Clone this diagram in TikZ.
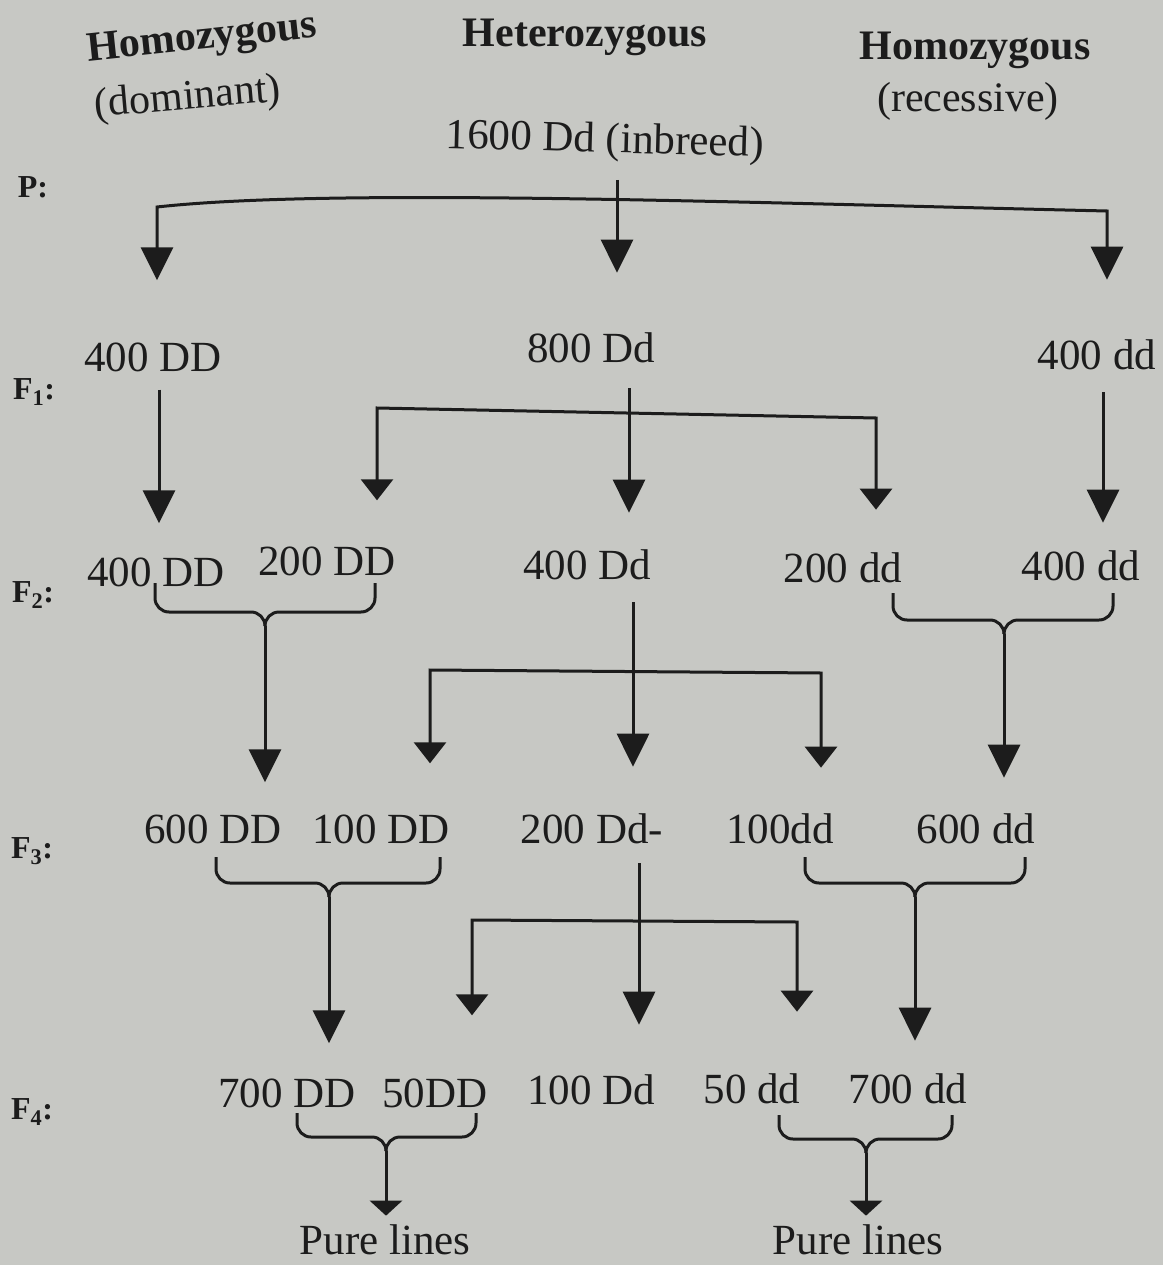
\documentclass[tikz,border=0pt]{standalone}
\usepackage{fontspec}
\setmainfont{Liberation Serif}
\usetikzlibrary{arrows.meta,calc}
\definecolor{pageGray}{RGB}{199,200,196}
\definecolor{inkBlack}{RGB}{28,28,28}
\tikzset{
  % text of the pedigree
  gen/.style={inner sep=0pt, text=inkBlack, font=\fontsize{43}{50}\selectfont},
  headtxt/.style={inner sep=0pt, text=inkBlack, font=\fontsize{42}{50}\selectfont\bfseries},
  subhead/.style={inner sep=0pt, text=inkBlack, font=\fontsize{42}{50}\selectfont},
  genlabel/.style={inner sep=0pt, text=inkBlack, font=\fontsize{32}{38}\selectfont\bfseries},
  % lines and arrows
  wire/.style={draw=inkBlack, line width=3pt},
  bigarrow/.style={wire, -{Triangle[length=33pt,width=32pt]}},
  tinyarrow/.style={wire, -{Triangle[length=15pt,width=32pt]}},
  branchpair/.style={wire, {Triangle[length=21pt,width=32pt]}-{Triangle[length=21pt,width=32pt]}},
  bigpair/.style={wire, {Triangle[length=33pt,width=32pt]}-{Triangle[length=33pt,width=32pt]}},
  brc/.style={wire, rounded corners=14pt}
}
\begin{document}
\begin{tikzpicture}[x=1pt,y=-1pt]
\fill[pageGray] (0,0) rectangle (1163,1265);
\useasboundingbox (0,0) rectangle (1163,1265);

% column headings
\node[headtxt, rotate=6] (homD) at (202,40) {Homozygous};
\node[subhead, rotate=5] (domi) at (188,99) {(dominant)};
\node[headtxt] (hetero) at (585,37) {Heterozygous};
\node[headtxt] (homR) at (975,50) {Homozygous};
\node[subhead] (reces) at (968,101) {(recessive)};

% generation labels
\node[genlabel] (lblP) at (33,187) {P:};
\node[genlabel] (lblF1) at (34,392) {F\textsubscript{1}:};
\node[genlabel] (lblF2) at (33,595) {F\textsubscript{2}:};
\node[genlabel] (lblF3) at (32,851) {F\textsubscript{3}:};
\node[genlabel] (lblF4) at (32,1112) {F\textsubscript{4}:};

% parents
\node[gen, rotate=-1.5] (parent) at (605,142) {1600 Dd (inbreed)};

% F1
\node[gen] (f1a) at (153,357) {400 DD};
\node[gen] (f1b) at (591,348) {800 Dd};
\node[gen] (f1c) at (1097,355) {400 dd};

% F2
\node[gen] (f2a) at (156,572) {400 DD};
\node[gen] (f2b) at (327,561) {200 DD};
\node[gen] (f2c) at (587,565) {400 Dd};
\node[gen] (f2d) at (843,568) {200 dd};
\node[gen] (f2e) at (1081,566) {400 dd};

% F3
\node[gen] (f3a) at (213,829) {600 DD};
\node[gen] (f3b) at (381,829) {100 DD};
\node[gen] (f3c) at (592,829) {200 Dd-};
\node[gen] (f3d) at (780,829) {100dd};
\node[gen] (f3e) at (976,829) {600 dd};

% F4
\node[gen] (f4a) at (287,1093) {700 DD};
\node[gen] (f4b) at (435,1093) {50DD};
\node[gen] (f4c) at (591,1090) {100 Dd};
\node[gen] (f4d) at (752,1089) {50 dd};
\node[gen] (f4e) at (908,1089) {700 dd};

% pure lines
\node[gen] (pure1) at (385,1240) {Pure lines};
\node[gen] (pure2) at (858,1240) {Pure lines};

% P -> F1
\coordinate (pL) at (157,207);
\coordinate (pR) at (1107,211);
\coordinate (pM) at (617,180);
\draw[bigpair, shorten <=62pt, shorten >=60pt]
  (pL |- f1a.north) -- (pL) .. controls (330,188) and (720,202) .. (pR) -- (pR |- f1c.north);
\draw[bigarrow, shorten >=60pt] (pM) -- (pM |- f1b.north);

% F1 -> F2
\coordinate (m1) at (629,410);
\coordinate (m1L) at (377,408);
\coordinate (m1R) at (876,418);
\draw[bigarrow, shorten <=18pt, shorten >=34pt] ([xshift=6pt]f1a.south) -- ([xshift=6pt]f1a.south |- f2a.north);
\draw[bigarrow, shorten <=25pt, shorten >=37pt] (m1 |- f1b.south) -- (m1 |- f2c.north);
\draw[branchpair, shorten <=46pt, shorten >=43pt] (m1L |- f2b.north) -- (m1L) -- (m1R) -- (m1R |- f2d.north);
\draw[bigarrow, shorten <=22pt, shorten >=28pt] ([xshift=6pt]f1c.south) -- ([xshift=6pt]f1c.south |- f2e.north);

% F2 -> F3
\coordinate (b2L) at (155,583);
\coordinate (b2R) at (375,583);
\coordinate (b2T) at (265,626);
\draw[brc] (b2L) |- ($(b2T)+(0,-14)$) -- (b2T);
\draw[brc] (b2R) |- ($(b2T)+(0,-14)$) -- (b2T);
\draw[bigarrow, shorten >=32pt] (b2T) -- (b2T |- f3a.north);

\coordinate (m2) at (633,671);
\coordinate (m2L) at (430,670);
\coordinate (m2R) at (821,673);
\draw[bigarrow, shorten <=22pt, shorten >=47pt] (m2 |- f2c.south) -- (m2 |- f3c.north);
\draw[branchpair, shorten <=51pt, shorten >=46pt] (m2L |- f3b.north) -- (m2L) -- (m2R) -- (m2R |- f3d.north);

\coordinate (b2eL) at (893,593);
\coordinate (b2eR) at (1113,593);
\coordinate (b2eT) at (1004,634);
\draw[brc] (b2eL) |- ($(b2eT)+(0,-14)$) -- (b2eT);
\draw[brc] (b2eR) |- ($(b2eT)+(0,-14)$) -- (b2eT);
\draw[bigarrow, shorten >=36pt] (b2eT) -- (b2eT |- f3e.north);

% F3 -> F4
\coordinate (b3L) at (216,857);
\coordinate (b3R) at (440,857);
\coordinate (b3T) at (329,897);
\draw[brc] (b3L) |- ($(b3T)+(0,-14)$) -- (b3T);
\draw[brc] (b3R) |- ($(b3T)+(0,-14)$) -- (b3T);
\draw[bigarrow, shorten >=35pt] (b3T) -- (b3T |- f4a.north);

\coordinate (m3) at (639,921);
\coordinate (m3L) at (472,920);
\coordinate (m3R) at (797,922);
\draw[bigarrow, shorten <=19pt, shorten >=50pt] (m3 |- f3c.south) -- (m3 |- f4c.north);
\draw[branchpair, shorten <=63pt, shorten >=62pt] (m3L |- f4b.north) -- (m3L) -- (m3R) -- (m3R |- f4d.north);

\coordinate (b3eL) at (805,857);
\coordinate (b3eR) at (1025,857);
\coordinate (b3eT) at (915,897);
\draw[brc] (b3eL) |- ($(b3eT)+(0,-14)$) -- (b3eT);
\draw[brc] (b3eR) |- ($(b3eT)+(0,-14)$) -- (b3eT);
\draw[bigarrow, shorten >=33pt] (b3eT) -- (b3eT |- f4e.north);

% F4 -> pure lines
\coordinate (b4L) at (297,1113);
\coordinate (b4R) at (476,1113);
\coordinate (b4T) at (386,1151);
\draw[brc] (b4L) |- ($(b4T)+(0,-14)$) -- (b4T);
\draw[brc] (b4R) |- ($(b4T)+(0,-14)$) -- (b4T);
\draw[tinyarrow, shorten >=9pt] (b4T) -- (b4T |- pure1.north);

\coordinate (b4eL) at (779,1115);
\coordinate (b4eR) at (952,1115);
\coordinate (b4eT) at (866,1153);
\draw[brc] (b4eL) |- ($(b4eT)+(0,-14)$) -- (b4eT);
\draw[brc] (b4eR) |- ($(b4eT)+(0,-14)$) -- (b4eT);
\draw[tinyarrow, shorten >=9pt] (b4eT) -- (b4eT |- pure2.north);
\end{tikzpicture}
\end{document}
